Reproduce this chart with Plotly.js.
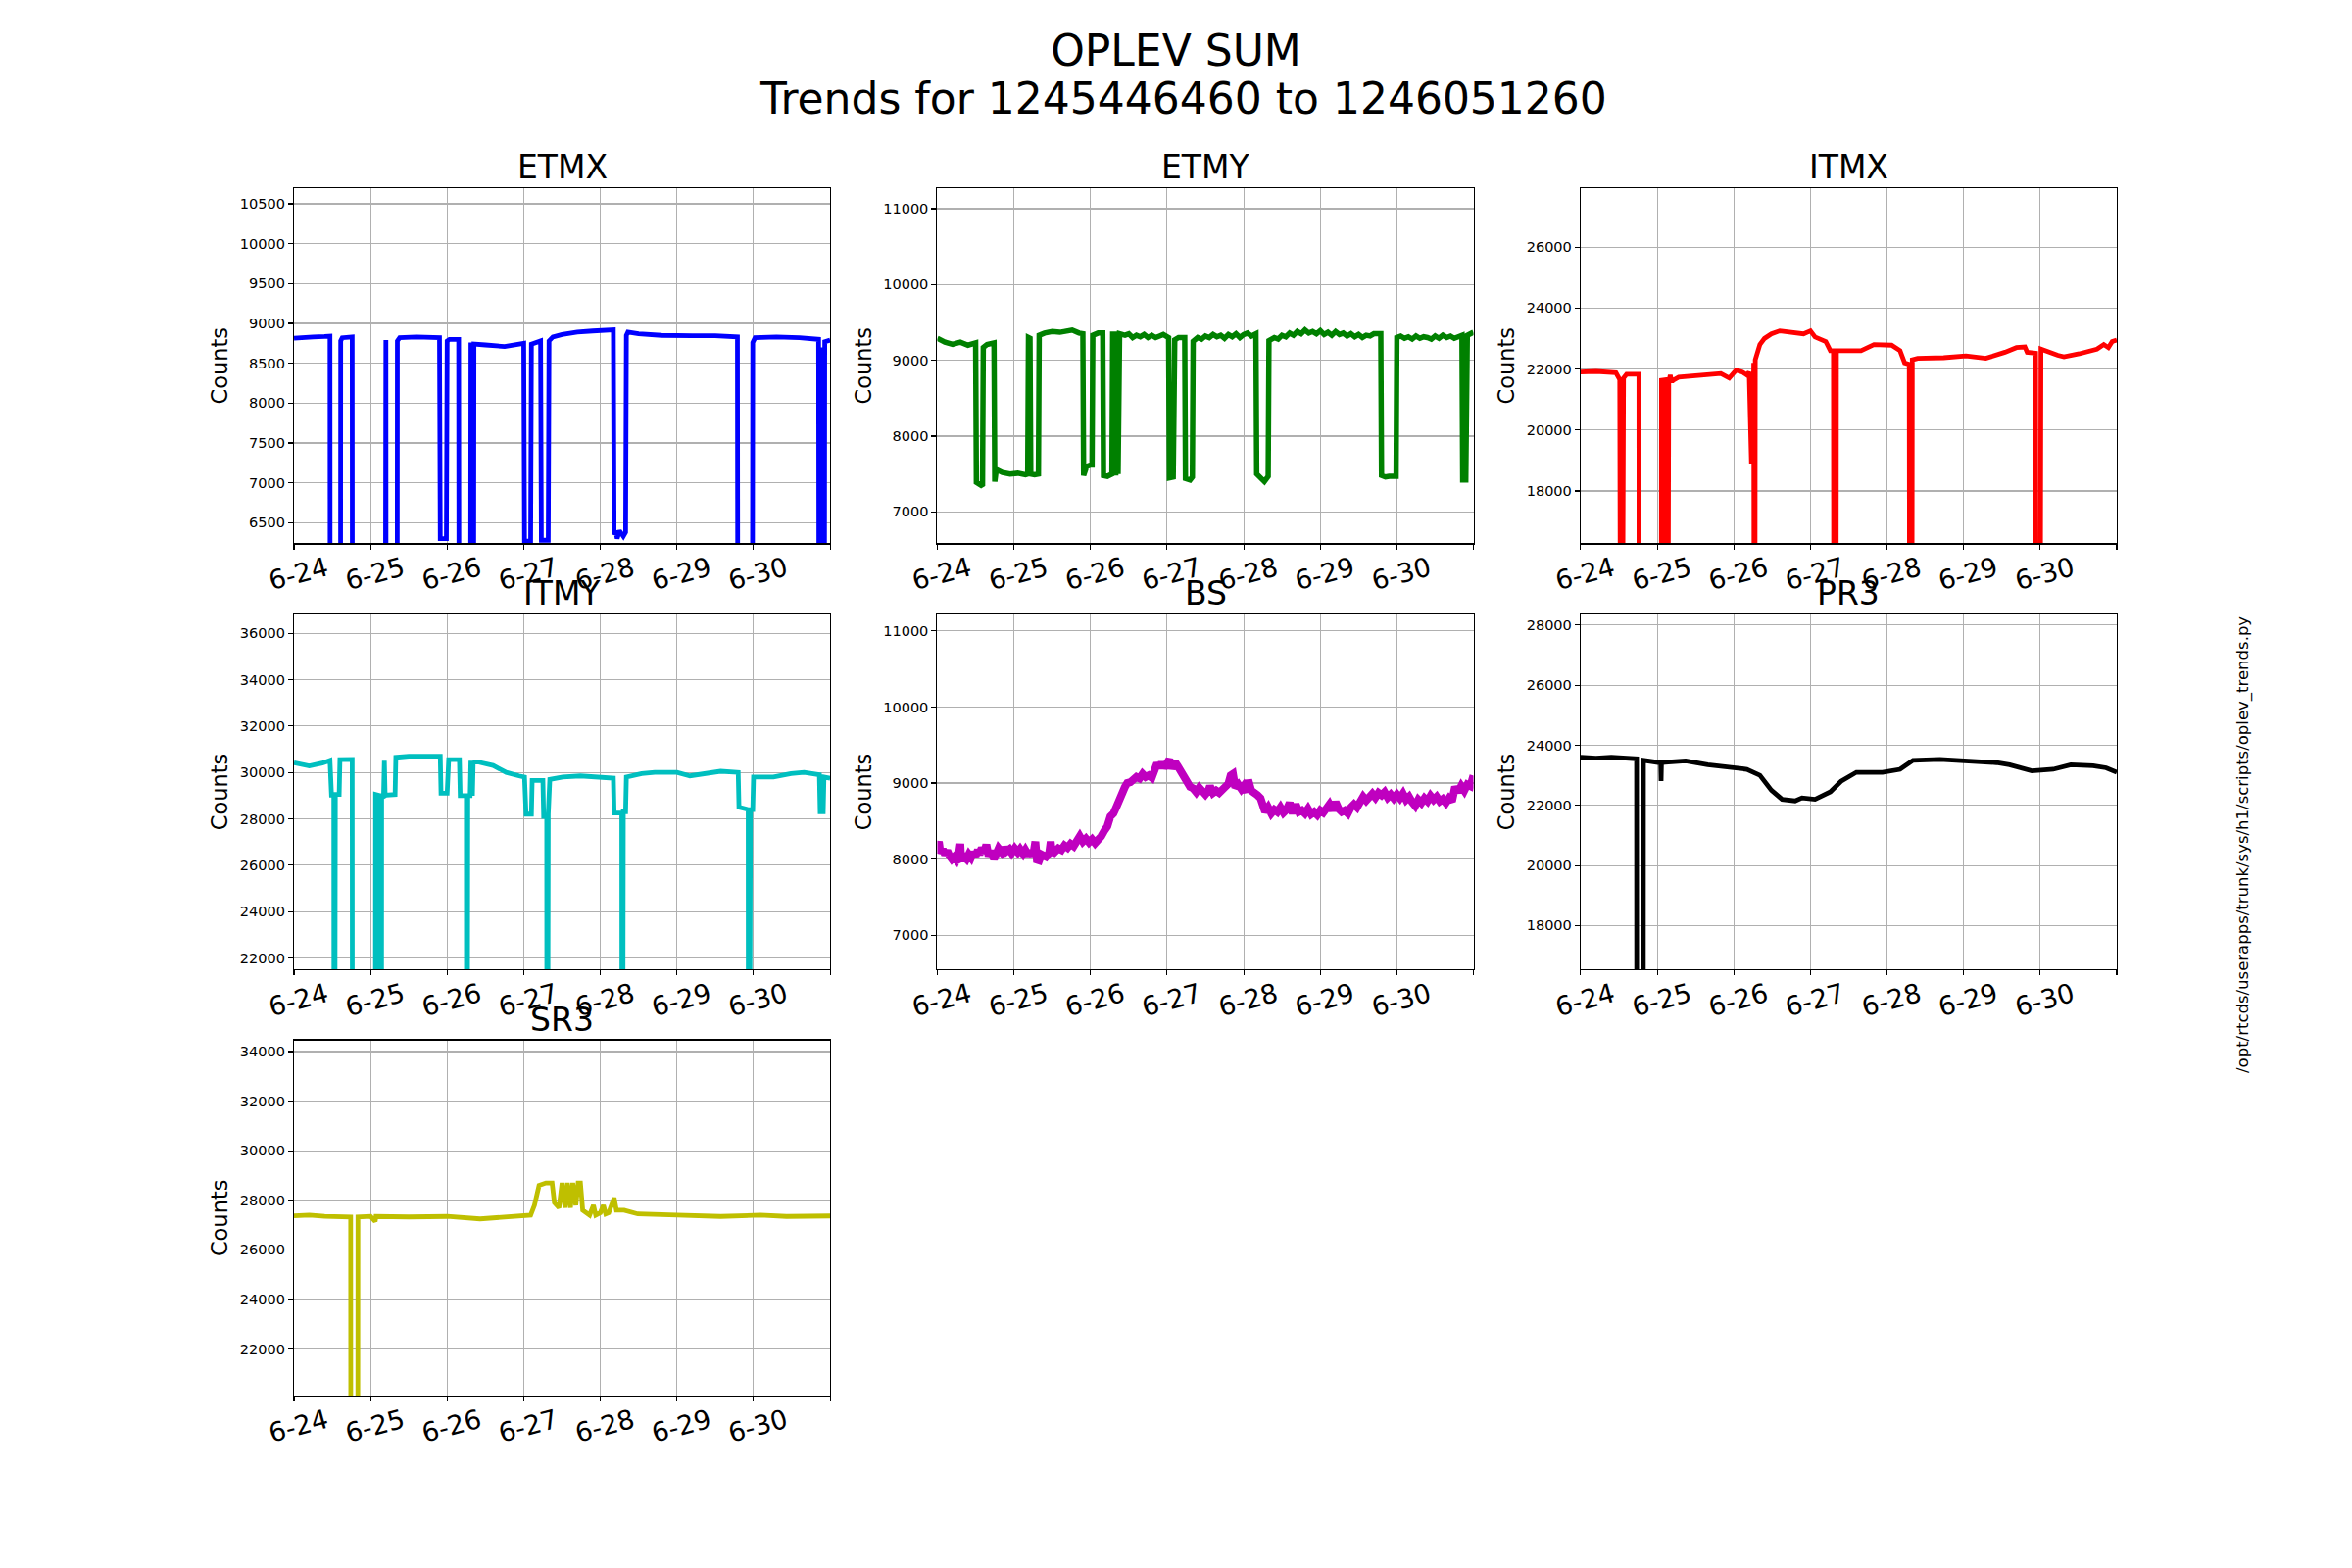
<!DOCTYPE html>
<html>
<head>
<meta charset="utf-8">
<script src="https://cdn.plot.ly/plotly-3.0.1.min.js"></script>
<style>
  html, body { margin: 0; padding: 0; background: #fff; }
  #myDiv { width: 2400px; height: 1600px; }
</style>
</head>
<body>
<div id="myDiv"></div>
<script>
// time in days after 2019-06-24 00:00, values in counts (0 = signal lost, off scale)
var dayLabels = ['6-24', '6-25', '6-26', '6-27', '6-28', '6-29', '6-30', ''];

var etmxT = [0, 0.1, 0.25, 0.4, 0.47, 0.475, 0.605, 0.61, 0.63, 0.76, 0.765, 1.185, 1.19, 1.2, 1.205, 1.345, 1.35, 1.38, 1.6, 1.9, 1.91, 1.99, 2.0, 2.03, 2.15, 2.16, 2.3, 2.31, 2.32, 2.33, 2.34, 2.35, 2.36, 2.5, 2.75, 2.95, 3.0, 3.01, 3.09, 3.1, 3.22, 3.23, 3.32, 3.33, 3.38, 3.5, 3.7, 3.9, 4.17, 4.18, 4.2, 4.22, 4.25, 4.3, 4.33, 4.34, 4.36, 4.5, 4.8, 5.2, 5.5, 5.79, 5.8, 5.98, 5.99, 6.02, 6.3, 6.6, 6.85, 6.86, 6.88, 6.89, 6.91, 6.92, 6.93, 7.0];
var etmxV = [8815, 8825, 8830, 8835, 8840, 0, 0, 8780, 8820, 8830, 0, 0, 8780, 8790, 0, 0, 8780, 8820, 8830, 8820, 6300, 6300, 8780, 8800, 8800, 0, 0, 8760, 0, 8750, 0, 8740, 8740, 8730, 8710, 8740, 8750, 6270, 6270, 8740, 8780, 6280, 6280, 8780, 8830, 8860, 8890, 8905, 8920, 6350, 6400, 6300, 6400, 6330, 6380, 8850, 8890, 8870, 8850, 8845, 8845, 8830, 0, 0, 8760, 8820, 8830, 8820, 8800, 0, 8700, 0, 8500, 0, 8770, 8790];

var etmyT = [0, 0.1, 0.2, 0.3, 0.4, 0.5, 0.51, 0.55, 0.59, 0.6, 0.65, 0.74, 0.75, 0.77, 0.85, 0.95, 1.05, 1.15, 1.18, 1.19, 1.21, 1.22, 1.27, 1.32, 1.33, 1.4, 1.5, 1.6, 1.7, 1.76, 1.85, 1.9, 1.91, 1.95, 2.0, 2.02, 2.03, 2.1, 2.16, 2.17, 2.22, 2.28, 2.29, 2.3, 2.32, 2.33, 2.35, 2.36, 2.38, 2.45, 2.5, 2.55, 2.6, 2.65, 2.7, 2.75, 2.8, 2.85, 2.9, 2.95, 3.02, 3.03, 3.08, 3.1, 3.15, 3.23, 3.24, 3.3, 3.33, 3.34, 3.4, 3.45, 3.5, 3.55, 3.6, 3.65, 3.7, 3.75, 3.8, 3.85, 3.9, 3.95, 4.0, 4.05, 4.1, 4.16, 4.17, 4.22, 4.27, 4.32, 4.33, 4.4, 4.45, 4.5, 4.55, 4.6, 4.65, 4.7, 4.75, 4.8, 4.85, 4.9, 4.95, 5.0, 5.05, 5.1, 5.15, 5.2, 5.25, 5.3, 5.35, 5.4, 5.45, 5.5, 5.55, 5.6, 5.65, 5.7, 5.79, 5.8, 5.85, 5.9, 5.99, 6.0, 6.05, 6.1, 6.15, 6.2, 6.25, 6.3, 6.35, 6.4, 6.45, 6.5, 6.55, 6.6, 6.65, 6.7, 6.75, 6.8, 6.85, 6.86, 6.9, 6.92, 7.0];
var etmyV = [9290, 9240, 9210, 9240, 9200, 9230, 7390, 7370, 7340, 9170, 9210, 9230, 7400, 7560, 7520, 7500, 7510, 7490, 7500, 9300, 9290, 7500, 7490, 7500, 9330, 9360, 9380, 9370, 9400, 9400, 9360, 9350, 7480, 7600, 7620, 7620, 9330, 9360, 9360, 7480, 7470, 7500, 9380, 7500, 9380, 7480, 9370, 7500, 9350, 9330, 9350, 9300, 9330, 9310, 9340, 9300, 9330, 9300, 9320, 9340, 9300, 7450, 7460, 9270, 9300, 9300, 7440, 7420, 7460, 9250, 9300, 9280, 9320, 9300, 9340, 9310, 9330, 9290, 9340, 9310, 9350, 9300, 9340, 9360, 9320, 9350, 7500, 7450, 7400, 7470, 9260, 9300, 9280, 9330, 9310, 9360, 9330, 9380, 9350, 9400, 9360, 9380, 9350, 9390, 9340, 9370, 9330, 9380, 9340, 9360, 9320, 9350, 9310, 9340, 9300, 9330, 9320, 9350, 9350, 7480, 7460, 7470, 7470, 9300, 9320, 9290, 9310, 9280, 9320, 9290, 9310, 9300, 9280, 9320, 9290, 9330, 9300, 9320, 9290, 9310, 9330, 7420, 7420, 9330, 9370];

var itmxT = [0, 0.2, 0.46, 0.51, 0.53, 0.55, 0.56, 0.6, 0.76, 0.765, 1.05, 1.055, 1.11, 1.13, 1.15, 1.17, 1.19, 1.2, 1.28, 1.37, 1.6, 1.83, 1.94, 2.03, 2.11, 2.17, 2.2, 2.22, 2.23, 2.24, 2.25, 2.26, 2.27, 2.28, 2.3, 2.34, 2.4, 2.49, 2.6, 2.74, 2.91, 3.0, 3.06, 3.2, 3.26, 3.3, 3.31, 3.33, 3.34, 3.37, 3.66, 3.83, 4.06, 4.17, 4.23, 4.29, 4.3, 4.32, 4.33, 4.4, 4.74, 5.03, 5.29, 5.54, 5.69, 5.8, 5.83, 5.94, 5.95, 5.99, 6.01, 6.23, 6.31, 6.51, 6.74, 6.83, 6.89, 6.94, 7.0];
var itmxV = [21900, 21920, 21880, 21650, 0, 0, 21700, 21830, 21830, 0, 0, 21630, 21650, 0, 21560, 21800, 21560, 21620, 21730, 21750, 21800, 21850, 21700, 21960, 21900, 21800, 21900, 20500, 18900, 21500, 19800, 22200, 0, 22300, 22500, 22800, 23000, 23150, 23250, 23200, 23150, 23250, 23050, 22900, 22600, 22600, 0, 0, 22600, 22600, 22600, 22800, 22780, 22600, 22200, 22150, 0, 0, 22300, 22350, 22370, 22430, 22350, 22550, 22700, 22720, 22550, 22520, 0, 0, 22650, 22450, 22400, 22500, 22650, 22800, 22700, 22900, 22950];

var itmyT = [0, 0.2, 0.37, 0.47, 0.49, 0.52, 0.525, 0.535, 0.54, 0.59, 0.6, 0.76, 0.765, 1.06, 1.065, 1.12, 1.125, 1.14, 1.145, 1.17, 1.18, 1.19, 1.2, 1.32, 1.33, 1.5, 1.91, 1.92, 2.0, 2.02, 2.16, 2.17, 2.25, 2.255, 2.265, 2.27, 2.3, 2.31, 2.33, 2.34, 2.36, 2.4, 2.6, 2.77, 2.94, 3.01, 3.03, 3.1, 3.11, 3.25, 3.26, 3.3, 3.305, 3.315, 3.32, 3.34, 3.51, 3.74, 4.03, 4.17, 4.18, 4.28, 4.285, 4.295, 4.3, 4.33, 4.34, 4.54, 4.71, 5.0, 5.17, 5.57, 5.8, 5.81, 5.93, 5.935, 5.945, 5.96, 5.99, 6.0, 6.26, 6.49, 6.66, 6.86, 6.87, 6.91, 6.92, 7.0];
var itmyV = [30420, 30280, 30400, 30520, 29020, 29020, 0, 0, 29050, 29050, 30550, 30560, 0, 0, 29050, 29000, 0, 0, 29000, 29000, 30500, 29000, 29020, 29050, 30650, 30700, 30700, 29100, 29100, 30550, 30550, 29000, 29000, 0, 0, 29000, 29000, 30500, 29000, 30400, 30450, 30450, 30300, 30000, 29850, 29800, 28200, 28200, 29650, 29650, 28100, 28100, 0, 0, 28200, 29700, 29800, 29850, 29800, 29750, 28250, 28250, 0, 0, 28300, 28300, 29800, 29950, 30000, 30000, 29850, 30050, 30000, 28500, 28400, 0, 0, 28400, 28400, 29800, 29800, 29950, 30000, 29900, 28300, 28300, 29800, 29750];

var bsT = [0, 0.02, 0.04, 0.07, 0.1, 0.13, 0.16, 0.19, 0.22, 0.25, 0.28, 0.3, 0.31, 0.35, 0.38, 0.41, 0.44, 0.47, 0.5, 0.53, 0.55, 0.58, 0.61, 0.64, 0.67, 0.7, 0.74, 0.77, 0.8, 0.84, 0.87, 0.9, 0.94, 0.97, 1.01, 1.05, 1.08, 1.12, 1.15, 1.19, 1.22, 1.25, 1.28, 1.3, 1.33, 1.36, 1.42, 1.46, 1.48, 1.5, 1.54, 1.58, 1.62, 1.66, 1.7, 1.74, 1.78, 1.82, 1.86, 1.9, 1.94, 1.98, 2.02, 2.06, 2.1, 2.14, 2.18, 2.22, 2.26, 2.3, 2.34, 2.38, 2.42, 2.45, 2.48, 2.52, 2.56, 2.6, 2.64, 2.68, 2.72, 2.76, 2.8, 2.84, 2.87, 2.9, 2.93, 2.96, 3.0, 3.03, 3.06, 3.1, 3.14, 3.18, 3.22, 3.26, 3.3, 3.34, 3.38, 3.42, 3.46, 3.5, 3.54, 3.56, 3.6, 3.64, 3.68, 3.72, 3.76, 3.8, 3.83, 3.86, 3.89, 3.93, 3.97, 4.0, 4.04, 4.06, 4.1, 4.14, 4.18, 4.22, 4.25, 4.28, 4.32, 4.36, 4.4, 4.44, 4.48, 4.52, 4.56, 4.6, 4.64, 4.68, 4.72, 4.76, 4.8, 4.84, 4.88, 4.92, 4.96, 5.0, 5.04, 5.08, 5.12, 5.16, 5.2, 5.24, 5.28, 5.32, 5.36, 5.4, 5.44, 5.48, 5.52, 5.56, 5.6, 5.64, 5.68, 5.72, 5.76, 5.8, 5.84, 5.88, 5.92, 5.96, 6.0, 6.04, 6.08, 6.12, 6.16, 6.2, 6.24, 6.28, 6.32, 6.36, 6.4, 6.44, 6.48, 6.52, 6.56, 6.6, 6.64, 6.68, 6.72, 6.76, 6.8, 6.84, 6.88, 6.92, 6.96, 7.0];
var bsV = [8150, 8230, 8080, 8130, 8060, 8110, 8040, 8000, 8030, 7990, 8060, 8200, 8010, 8030, 8000, 8060, 8020, 8090, 8040, 8120, 8060, 8150, 8080, 8190, 8040, 8110, 8000, 8110, 8140, 8090, 8150, 8100, 8130, 8080, 8140, 8090, 8130, 8070, 8120, 8050, 8110, 8040, 8230, 7990, 7980, 8060, 8030, 8080, 8230, 8060, 8110, 8140, 8120, 8180, 8150, 8200, 8170, 8240, 8300, 8230, 8270, 8220, 8260, 8210, 8240, 8300, 8370, 8430, 8560, 8600, 8690, 8760, 8880, 8950, 9000, 9010, 9050, 9080, 9060, 9120, 9080, 9100, 9070, 9150, 9260, 9200, 9270, 9200, 9260, 9310, 9190, 9280, 9220, 9150, 9080, 9000, 8950, 8930, 8880, 8940, 8870, 8850, 8900, 8960, 8870, 8900, 8870, 8920, 8950, 8990, 9100, 9120, 8940, 8980, 8920, 8960, 8880, 9040, 8900, 8880, 8840, 8800, 8700, 8620, 8680, 8600, 8650, 8620, 8680, 8610, 8650, 8740, 8600, 8720, 8620, 8640, 8600, 8660, 8590, 8620, 8580, 8640, 8610, 8680, 8720, 8640, 8750, 8660, 8620, 8640, 8600, 8680, 8720, 8680, 8760, 8820, 8770, 8830, 8860, 8810, 8870, 8840, 8880, 8810, 8850, 8800, 8850, 8800, 8860, 8780, 8820, 8750, 8700, 8780, 8740, 8800, 8760, 8830, 8780, 8820, 8760, 8790, 8740, 8800, 8760, 8950, 8880, 8960, 8900, 8980, 8960, 9100];

var pr3T = [0, 0.2, 0.4, 0.6, 0.73, 0.735, 0.815, 0.82, 0.91, 1.03, 1.045, 1.05, 1.055, 1.1, 1.37, 1.66, 1.94, 2.17, 2.34, 2.49, 2.63, 2.8, 2.89, 3.06, 3.26, 3.4, 3.6, 3.94, 4.17, 4.34, 4.69, 5.03, 5.43, 5.6, 5.89, 6.17, 6.4, 6.69, 6.86, 7.0];
var pr3V = [23600, 23570, 23600, 23580, 23550, 0, 0, 23500, 23450, 23420, 23420, 22810, 23420, 23430, 23480, 23350, 23250, 23200, 23000, 22500, 22200, 22150, 22250, 22200, 22450, 22800, 23100, 23100, 23200, 23500, 23530, 23480, 23420, 23350, 23150, 23200, 23350, 23320, 23250, 23100];

var sr3T = [0, 0.2, 0.4, 0.6, 0.74, 0.745, 0.83, 0.835, 1.0, 1.06, 1.07, 1.5, 2.0, 2.43, 2.94, 3.09, 3.14, 3.2, 3.29, 3.37, 3.4, 3.46, 3.5, 3.54, 3.57, 3.61, 3.64, 3.68, 3.71, 3.74, 3.77, 3.86, 3.91, 3.94, 4.0, 4.04, 4.07, 4.11, 4.18, 4.21, 4.31, 4.49, 5.0, 5.57, 6.09, 6.43, 7.0];
var sr3V = [27370, 27400, 27350, 27330, 27330, 0, 0, 27330, 27350, 27150, 27350, 27330, 27350, 27250, 27350, 27400, 27800, 28600, 28700, 28700, 27900, 27700, 28700, 27700, 28700, 27700, 28700, 27800, 28700, 28700, 27600, 27400, 27800, 27400, 27500, 27800, 27450, 27500, 28100, 27600, 27600, 27450, 27400, 27350, 27400, 27350, 27370];

var panelNames = ['ETMX', 'ETMY', 'ITMX', 'ITMY', 'BS', 'PR3', 'SR3'];
var panelColors = ['#0000ff', '#008000', '#ff0000', '#00bfbf', '#bf00bf', '#000000', '#bfbf00'];
var panelT = [etmxT, etmyT, itmxT, itmyT, bsT, pr3T, sr3T];
var panelV = [etmxV, etmyV, itmxV, itmyV, bsV, pr3V, sr3V];
var panelRange = [[6242, 10697], [6586, 11272], [16284, 27930], [21506, 36819], [6548, 11220], [16540, 28359], [20125, 34449]];
var panelDtick = [500, 1000, 2000, 2000, 1000, 2000, 2000];
var lineWidth = [4.8, 5.5, 4.8, 4.8, 8, 4.8, 4.8];

function toDate(d) {
  var ms = Date.UTC(2019, 5, 24) + Math.round(d * 86400000);
  return new Date(ms).toISOString().slice(0, 19).replace('T', ' ');
}

var font = 'DejaVu Sans, Liberation Sans, sans-serif';
var colDom = [[0.125, 0.352941], [0.398529, 0.626471], [0.672059, 0.9]];
var rowDom = [[0.653529, 0.88], [0.381765, 0.608235], [0.11, 0.336471]];

var dayTicks = dayLabels.map(function (s, i) { return toDate(i); });

var data = [];
var layout = {
  width: 2400,
  height: 1600,
  margin: {l: 0, r: 0, t: 0, b: 0},
  paper_bgcolor: '#ffffff',
  plot_bgcolor: '#ffffff',
  showlegend: false,
  font: {family: font, color: '#000'},
  title: {
    text: 'OPLEV SUM',
    font: {family: font, size: 44, color: '#000'},
    x: 0.5, xanchor: 'center',
    y: 0.968, yanchor: 'middle'
  },
  annotations: [{
    text: 'Trends for 1245446460 to 1246051260',
    xref: 'paper', yref: 'paper', x: 0.503, y: 0.937,
    xanchor: 'center', yanchor: 'middle', showarrow: false,
    font: {family: font, size: 44, color: '#000'}
  }, {
    text: '/opt/rtcds/userapps/trunk/sys/h1/scripts/oplev_trends.py',
    xref: 'paper', yref: 'paper', x: 0.954, y: 0.461,
    xanchor: 'center', yanchor: 'middle', textangle: -90, showarrow: false,
    font: {family: font, size: 16.5, color: '#000'}
  }]
};

panelNames.forEach(function (name, i) {
  var n = i + 1;
  var xa = 'x' + (n === 1 ? '' : n), ya = 'y' + (n === 1 ? '' : n);
  var col = i % 3, row = Math.floor(i / 3);
  data.push({
    x: panelT[i].map(toDate),
    y: panelV[i],
    xaxis: xa, yaxis: ya,
    type: 'scatter', mode: 'lines',
    line: {color: panelColors[i], width: lineWidth[i]},
    hoverinfo: 'skip'
  });
  layout['xaxis' + (n === 1 ? '' : n)] = {
    domain: colDom[col], anchor: ya, type: 'date',
    range: [toDate(0), toDate(7)],
    tickmode: 'array', tickvals: dayTicks, ticktext: dayLabels,
    tickangle: -15, ticklabelshift: 33, ticklabelstandoff: -6,
    tickfont: {family: font, size: 27, color: '#000'},
    ticks: 'outside', ticklen: 5, tickwidth: 1.1, tickcolor: '#000',
    showline: true, linecolor: '#000', linewidth: 1.2, mirror: true,
    showgrid: true, gridcolor: '#b0b0b0', gridwidth: 1.1, zeroline: false,
    fixedrange: true
  };
  layout['yaxis' + (n === 1 ? '' : n)] = {
    domain: rowDom[row], anchor: xa,
    range: panelRange[i], dtick: panelDtick[i], tickformat: 'd',
    tickfont: {family: font, size: 14.5, color: '#000'},
    ticks: 'outside', ticklen: 5, tickwidth: 1.1, tickcolor: '#000',
    showline: true, linecolor: '#000', linewidth: 1.2, mirror: true,
    showgrid: true, gridcolor: '#b0b0b0', gridwidth: 1.1, zeroline: false,
    title: {text: 'Counts', font: {family: font, size: 22.5, color: '#000'}, standoff: 5},
    automargin: true, fixedrange: true
  };
  layout.annotations.push({
    text: name, xref: 'paper', yref: 'paper',
    x: (colDom[col][0] + colDom[col][1]) / 2, y: rowDom[row][1],
    xanchor: 'center', yanchor: 'bottom', yshift: 0, showarrow: false,
    font: {family: font, size: 33, color: '#000'}
  });
});

Plotly.newPlot('myDiv', data, layout, {displayModeBar: false, staticPlot: true});
</script>
</body>
</html>
